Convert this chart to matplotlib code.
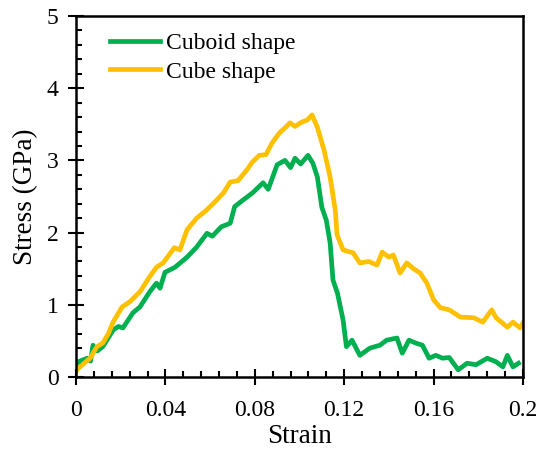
import matplotlib.pyplot as plt
from matplotlib.ticker import MultipleLocator

plt.rcParams['font.family'] = ['Liberation Serif', 'DejaVu Serif']

# Cube shape (yellow)
cube_strain = [0.0, 0.001, 0.004, 0.0063, 0.0094, 0.012, 0.0145, 0.0166, 0.0206, 0.024,
               0.0286, 0.033, 0.036, 0.039, 0.044, 0.0465, 0.0497, 0.054, 0.058, 0.062,
               0.066, 0.069, 0.0725, 0.0765, 0.079, 0.082, 0.085, 0.0877, 0.091, 0.0935,
               0.0957, 0.098, 0.101, 0.1035, 0.1056, 0.108, 0.111, 0.1137, 0.116, 0.1168,
               0.1195, 0.124, 0.127, 0.131, 0.1347, 0.137, 0.14, 0.142, 0.145, 0.148,
               0.151, 0.154, 0.157, 0.16, 0.163, 0.167, 0.172, 0.178, 0.182, 0.186,
               0.188, 0.193, 0.1955, 0.1987, 0.2]
cube_stress = [0.08, 0.12, 0.2, 0.26, 0.42, 0.47, 0.6, 0.76, 0.97, 1.04,
               1.18, 1.39, 1.52, 1.58, 1.79, 1.76, 2.04, 2.2, 2.3, 2.42,
               2.55, 2.7, 2.72, 2.87, 2.98, 3.07, 3.08, 3.24, 3.38, 3.45,
               3.52, 3.47, 3.53, 3.56, 3.63, 3.46, 3.14, 2.77, 2.31, 1.97,
               1.76, 1.72, 1.58, 1.6, 1.55, 1.73, 1.66, 1.69, 1.44, 1.58,
               1.5, 1.44, 1.3, 1.07, 0.96, 0.93, 0.83, 0.82, 0.76, 0.93,
               0.82, 0.69, 0.76, 0.68, 0.75]

# Cuboid shape (green)
cuboid_strain = [0.0, 0.001, 0.005, 0.0065, 0.0076, 0.0095, 0.012, 0.0166, 0.019, 0.021,
                 0.0255, 0.0286, 0.033, 0.036, 0.0376, 0.0398, 0.0443, 0.0497, 0.054, 0.0586,
                 0.061, 0.065, 0.069, 0.071, 0.0747, 0.079, 0.0837, 0.086, 0.09, 0.0935,
                 0.096, 0.098, 0.1005, 0.1038, 0.106, 0.108, 0.11, 0.112, 0.1137, 0.115,
                 0.117, 0.1195, 0.121, 0.1235, 0.127, 0.1315, 0.136, 0.139, 0.1436, 0.146,
                 0.149, 0.152, 0.155, 0.158, 0.161, 0.164, 0.167, 0.171, 0.175, 0.179,
                 0.184, 0.188, 0.191, 0.193, 0.1955, 0.198]
cuboid_stress = [0.15, 0.21, 0.26, 0.22, 0.44, 0.36, 0.42, 0.65, 0.7, 0.68,
                 0.89, 0.97, 1.18, 1.3, 1.23, 1.45, 1.52, 1.66, 1.8, 1.99,
                 1.95, 2.08, 2.13, 2.36, 2.45, 2.55, 2.69, 2.6, 2.94, 3.0,
                 2.9, 3.03, 2.95, 3.07, 2.96, 2.77, 2.35, 2.17, 1.86, 1.34,
                 1.16, 0.79, 0.42, 0.51, 0.3, 0.4, 0.44, 0.51, 0.54, 0.33,
                 0.51, 0.47, 0.44, 0.26, 0.3, 0.26, 0.27, 0.1, 0.19, 0.17,
                 0.26, 0.21, 0.14, 0.3, 0.14, 0.19]

fig = plt.figure(figsize=(5.36, 4.53), dpi=100)
ax = fig.add_axes([0.1418, 0.1678, 0.8339, 0.7969])

ax.plot(cuboid_strain, cuboid_stress, color='#00b050', linewidth=3.4, label='Cuboid shape')
ax.plot(cube_strain, cube_stress, color='#ffc000', linewidth=3.4, label='Cube shape')

ax.set_xlim(0, 0.2)
ax.set_ylim(0, 5)
ax.xaxis.set_major_locator(MultipleLocator(0.04))
ax.xaxis.set_minor_locator(MultipleLocator(0.008))
ax.yaxis.set_major_locator(MultipleLocator(1))
ax.yaxis.set_minor_locator(MultipleLocator(0.2))
ax.set_xticks([0, 0.04, 0.08, 0.12, 0.16, 0.2])
ax.set_xticklabels(['0', '0.04', '0.08', '0.12', '0.16', '0.2'])

ax.tick_params(which='major', direction='inout', length=11, width=1.5, labelsize=17)
ax.tick_params(axis='x', which='major', pad=11)
ax.tick_params(axis='y', which='major', pad=7)
ax.tick_params(which='minor', direction='in', length=4, width=1.5)
for s in ax.spines.values():
    s.set_linewidth(1.8)

ax.set_xlabel('Strain', fontsize=19.5, labelpad=2)
ax.set_ylabel('Stress (GPa)', fontsize=19.5, labelpad=6)

ax.legend(loc='upper left', frameon=False, fontsize=17, handlelength=2.1,
          handletextpad=0.25, labelspacing=0.3, borderaxespad=0.3,
          bbox_to_anchor=(0.04, 1.0))

fig.savefig('out.png', dpi=100)
